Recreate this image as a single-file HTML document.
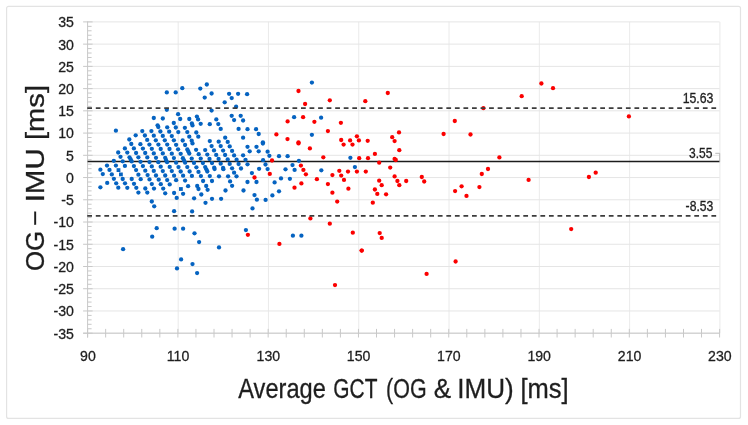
<!DOCTYPE html><html><head><meta charset="utf-8"><title>Bland-Altman plot</title>
<style>html,body{margin:0;padding:0;background:#fff}svg{display:block}text{font-family:"Liberation Sans",sans-serif;fill:#1e1e1e;stroke:#1e1e1e;stroke-width:0.3px}</style></head><body>
<svg width="748" height="425" viewBox="0 0 748 425">
<rect x="0" y="0" width="748" height="425" fill="#fff"/>
<rect x="6.6" y="6.3" width="733.9" height="412.1" rx="2" fill="none" stroke="#e3e3e3" stroke-width="1.2"/>
<path d="M87.6 333.20H719.6M87.6 310.96H719.6M87.6 288.73H719.6M87.6 266.49H719.6M87.6 244.26H719.6M87.6 222.02H719.6M87.6 199.79H719.6M87.6 177.55H719.6M87.6 155.31H719.6M87.6 133.08H719.6M87.6 110.84H719.6M87.6 88.61H719.6M87.6 66.37H719.6M87.6 44.14H719.6M87.6 21.90H719.6" stroke="#e5e5e5" stroke-width="1" fill="none"/>
<path d="M178.19 21.9V333.2M268.47 21.9V333.2M358.76 21.9V333.2M449.04 21.9V333.2M539.33 21.9V333.2M629.61 21.9V333.2M719.90 21.9V333.2" stroke="#e5e5e5" stroke-width="0.8" fill="none"/>
<path d="M87.6 21.4V337.5M83.1 333.2H719.6M83.1 333.20h9.5M87.6 328.75h4M87.6 324.31h4M87.6 319.86h4M87.6 315.41h4M83.1 310.96h9.5M87.6 306.52h4M87.6 302.07h4M87.6 297.62h4M87.6 293.18h4M83.1 288.73h9.5M87.6 284.28h4M87.6 279.83h4M87.6 275.39h4M87.6 270.94h4M83.1 266.49h9.5M87.6 262.05h4M87.6 257.60h4M87.6 253.15h4M87.6 248.70h4M83.1 244.26h9.5M87.6 239.81h4M87.6 235.36h4M87.6 230.92h4M87.6 226.47h4M83.1 222.02h9.5M87.6 217.57h4M87.6 213.13h4M87.6 208.68h4M87.6 204.23h4M83.1 199.79h9.5M87.6 195.34h4M87.6 190.89h4M87.6 186.44h4M87.6 182.00h4M83.1 177.55h9.5M87.6 173.10h4M87.6 168.66h4M87.6 164.21h4M87.6 159.76h4M83.1 155.31h9.5M87.6 150.87h4M87.6 146.42h4M87.6 141.97h4M87.6 137.53h4M83.1 133.08h9.5M87.6 128.63h4M87.6 124.18h4M87.6 119.74h4M87.6 115.29h4M83.1 110.84h9.5M87.6 106.40h4M87.6 101.95h4M87.6 97.50h4M87.6 93.05h4M83.1 88.61h9.5M87.6 84.16h4M87.6 79.71h4M87.6 75.27h4M87.6 70.82h4M83.1 66.37h9.5M87.6 61.92h4M87.6 57.48h4M87.6 53.03h4M87.6 48.58h4M83.1 44.14h9.5M87.6 39.69h4M87.6 35.24h4M87.6 30.79h4M87.6 26.35h4M83.1 21.90h9.5M87.60 328.9v8.6M105.66 328.9v8.6M123.71 328.9v8.6M141.77 328.9v8.6M159.83 328.9v8.6M177.89 328.9v8.6M195.94 328.9v8.6M214.00 328.9v8.6M232.06 328.9v8.6M250.11 328.9v8.6M268.17 328.9v8.6M286.23 328.9v8.6M304.29 328.9v8.6M322.34 328.9v8.6M340.40 328.9v8.6M358.46 328.9v8.6M376.51 328.9v8.6M394.57 328.9v8.6M412.63 328.9v8.6M430.69 328.9v8.6M448.74 328.9v8.6M466.80 328.9v8.6M484.86 328.9v8.6M502.91 328.9v8.6M520.97 328.9v8.6M539.03 328.9v8.6M557.09 328.9v8.6M575.14 328.9v8.6M593.20 328.9v8.6M611.26 328.9v8.6M629.31 328.9v8.6M647.37 328.9v8.6M665.43 328.9v8.6M683.49 328.9v8.6M701.54 328.9v8.6M719.60 328.9v8.6" stroke="#c8c8c8" stroke-width="1" fill="none"/>
<text transform="translate(53.48 338.60) scale(0.9180 1)" font-size="15.4">-35</text>
<text transform="translate(53.48 316.36) scale(0.9180 1)" font-size="15.4">-30</text>
<text transform="translate(53.48 294.13) scale(0.9180 1)" font-size="15.4">-25</text>
<text transform="translate(53.48 271.89) scale(0.9180 1)" font-size="15.4">-20</text>
<text transform="translate(53.48 249.66) scale(0.9180 1)" font-size="15.4">-15</text>
<text transform="translate(53.48 227.42) scale(0.9180 1)" font-size="15.4">-10</text>
<text transform="translate(61.34 205.19) scale(0.9180 1)" font-size="15.4">-5</text>
<text transform="translate(66.05 182.95) scale(0.9180 1)" font-size="15.4">0</text>
<text transform="translate(66.05 160.71) scale(0.9180 1)" font-size="15.4">5</text>
<text transform="translate(58.19 138.48) scale(0.9180 1)" font-size="15.4">10</text>
<text transform="translate(58.19 116.24) scale(0.9180 1)" font-size="15.4">15</text>
<text transform="translate(58.19 94.01) scale(0.9180 1)" font-size="15.4">20</text>
<text transform="translate(58.19 71.77) scale(0.9180 1)" font-size="15.4">25</text>
<text transform="translate(58.19 49.54) scale(0.9180 1)" font-size="15.4">30</text>
<text transform="translate(58.19 27.30) scale(0.9180 1)" font-size="15.4">35</text>
<text transform="translate(80.11 361.00) scale(0.9180 1)" font-size="15.4">90</text>
<text transform="translate(166.78 361.00) scale(0.9180 1)" font-size="15.4">110</text>
<text transform="translate(256.54 361.00) scale(0.9180 1)" font-size="15.4">130</text>
<text transform="translate(346.82 361.00) scale(0.9180 1)" font-size="15.4">150</text>
<text transform="translate(437.11 361.00) scale(0.9180 1)" font-size="15.4">170</text>
<text transform="translate(527.40 361.00) scale(0.9180 1)" font-size="15.4">190</text>
<text transform="translate(617.82 361.00) scale(0.9180 1)" font-size="15.4">210</text>
<text transform="translate(708.11 361.00) scale(0.9180 1)" font-size="15.4">230</text>
<text transform="translate(238.30 397.60) scale(0.8749 1)" font-size="27.0">Average</text>
<text transform="translate(333.36 397.60) scale(0.7734 1)" font-size="27.0">GCT</text>
<text transform="translate(386.11 397.60) scale(0.7951 1)" font-size="27.0">(OG</text>
<text transform="translate(433.82 397.60) scale(0.9641 1)" font-size="27.0">&amp;</text>
<text transform="translate(457.25 397.60) scale(0.9667 1)" font-size="27.0">IMU)</text>
<text transform="translate(520.41 397.60) scale(0.9456 1)" font-size="27.0">[ms]</text>
<text transform="translate(43.60 271.04) rotate(-90) scale(1.0197 1)" font-size="25.4">OG</text>
<text transform="translate(41.60 224.40) rotate(-90) scale(0.9069 1)" font-size="25.4">–</text>
<text transform="translate(43.60 202.36) rotate(-90) scale(1.1640 1)" font-size="25.4">IMU</text>
<text transform="translate(43.60 140.04) rotate(-90) scale(1.1491 1)" font-size="25.4">[ms]</text>
<path d="M87.6 161.46H719.6" stroke="#1c1c1c" stroke-width="1.5" fill="none"/>
<g fill="#0563c1"><circle cx="166.8" cy="92.4" r="2.15"/><circle cx="175.7" cy="92.4" r="2.15"/><circle cx="182.3" cy="88.2" r="2.15"/><circle cx="200.3" cy="88.6" r="2.15"/><circle cx="206.8" cy="84.5" r="2.15"/><circle cx="204.7" cy="97.6" r="2.15"/><circle cx="211.6" cy="93.5" r="2.15"/><circle cx="229.1" cy="93.8" r="2.15"/><circle cx="238.1" cy="93.8" r="2.15"/><circle cx="247.1" cy="94.2" r="2.15"/><circle cx="231.7" cy="98.1" r="2.15"/><circle cx="224.7" cy="102.3" r="2.15"/><circle cx="236.1" cy="106.7" r="2.15"/><circle cx="311.9" cy="82.6" r="2.15"/><circle cx="115.9" cy="130.7" r="2.15"/><circle cx="142.3" cy="131.1" r="2.15"/><circle cx="144.9" cy="135.5" r="2.15"/><circle cx="147.2" cy="139.9" r="2.15"/><circle cx="135.7" cy="135.3" r="2.15"/><circle cx="129.3" cy="139.5" r="2.15"/><circle cx="166.8" cy="109.8" r="2.15"/><circle cx="178.1" cy="114.2" r="2.15"/><circle cx="180.2" cy="119.0" r="2.15"/><circle cx="153.8" cy="118.0" r="2.15"/><circle cx="162.8" cy="118.5" r="2.15"/><circle cx="189.3" cy="119.0" r="2.15"/><circle cx="196.9" cy="116.6" r="2.15"/><circle cx="198.1" cy="119.4" r="2.15"/><circle cx="200.7" cy="123.8" r="2.15"/><circle cx="191.9" cy="123.4" r="2.15"/><circle cx="192.5" cy="125.4" r="2.15"/><circle cx="173.8" cy="123.0" r="2.15"/><circle cx="175.8" cy="127.5" r="2.15"/><circle cx="178.3" cy="132.1" r="2.15"/><circle cx="157.6" cy="125.3" r="2.15"/><circle cx="158.3" cy="127.0" r="2.15"/><circle cx="160.4" cy="131.5" r="2.15"/><circle cx="162.8" cy="135.9" r="2.15"/><circle cx="164.8" cy="140.3" r="2.15"/><circle cx="167.2" cy="127.3" r="2.15"/><circle cx="169.2" cy="131.7" r="2.15"/><circle cx="171.8" cy="136.1" r="2.15"/><circle cx="173.9" cy="140.3" r="2.15"/><circle cx="151.4" cy="131.1" r="2.15"/><circle cx="153.8" cy="135.7" r="2.15"/><circle cx="155.8" cy="140.3" r="2.15"/><circle cx="184.9" cy="127.8" r="2.15"/><circle cx="187.3" cy="132.1" r="2.15"/><circle cx="189.3" cy="136.7" r="2.15"/><circle cx="191.7" cy="140.7" r="2.15"/><circle cx="196.3" cy="132.5" r="2.15"/><circle cx="198.3" cy="136.7" r="2.15"/><circle cx="182.7" cy="140.5" r="2.15"/><circle cx="209.8" cy="124.2" r="2.15"/><circle cx="209.8" cy="141.1" r="2.15"/><circle cx="211.6" cy="110.6" r="2.15"/><circle cx="231.7" cy="115.8" r="2.15"/><circle cx="234.1" cy="120.1" r="2.15"/><circle cx="240.7" cy="115.8" r="2.15"/><circle cx="243.1" cy="120.5" r="2.15"/><circle cx="216.3" cy="119.4" r="2.15"/><circle cx="218.3" cy="124.1" r="2.15"/><circle cx="220.7" cy="128.9" r="2.15"/><circle cx="238.6" cy="128.9" r="2.15"/><circle cx="247.5" cy="129.2" r="2.15"/><circle cx="256.1" cy="129.2" r="2.15"/><circle cx="258.7" cy="134.0" r="2.15"/><circle cx="225.2" cy="137.7" r="2.15"/><circle cx="227.7" cy="141.9" r="2.15"/><circle cx="243.1" cy="137.7" r="2.15"/><circle cx="218.7" cy="141.7" r="2.15"/><circle cx="262.9" cy="142.3" r="2.15"/><circle cx="294.1" cy="117.2" r="2.15"/><circle cx="321.1" cy="117.7" r="2.15"/><circle cx="311.9" cy="134.8" r="2.15"/><circle cx="100.4" cy="169.7" r="2.15"/><circle cx="102.8" cy="174.1" r="2.15"/><circle cx="107.0" cy="165.6" r="2.15"/><circle cx="109.5" cy="169.9" r="2.15"/><circle cx="111.8" cy="174.4" r="2.15"/><circle cx="113.8" cy="160.8" r="2.15"/><circle cx="115.9" cy="165.6" r="2.15"/><circle cx="118.2" cy="152.5" r="2.15"/><circle cx="120.5" cy="156.8" r="2.15"/><circle cx="122.7" cy="161.3" r="2.15"/><circle cx="124.9" cy="165.9" r="2.15"/><circle cx="124.9" cy="148.4" r="2.15"/><circle cx="127.3" cy="152.6" r="2.15"/><circle cx="129.5" cy="157.3" r="2.15"/><circle cx="130.7" cy="159.4" r="2.15"/><circle cx="131.7" cy="161.4" r="2.15"/><circle cx="133.9" cy="166.1" r="2.15"/><circle cx="136.1" cy="170.1" r="2.15"/><circle cx="138.4" cy="174.7" r="2.15"/><circle cx="131.3" cy="144.0" r="2.15"/><circle cx="133.9" cy="148.4" r="2.15"/><circle cx="136.1" cy="153.0" r="2.15"/><circle cx="138.4" cy="157.3" r="2.15"/><circle cx="140.5" cy="161.8" r="2.15"/><circle cx="142.9" cy="166.1" r="2.15"/><circle cx="145.3" cy="170.7" r="2.15"/><circle cx="147.6" cy="175.1" r="2.15"/><circle cx="140.4" cy="144.2" r="2.15"/><circle cx="142.9" cy="148.6" r="2.15"/><circle cx="145.2" cy="153.0" r="2.15"/><circle cx="147.3" cy="157.4" r="2.15"/><circle cx="149.5" cy="162.1" r="2.15"/><circle cx="149.4" cy="144.6" r="2.15"/><circle cx="158.4" cy="144.6" r="2.15"/><circle cx="167.2" cy="144.6" r="2.15"/><circle cx="176.1" cy="144.8" r="2.15"/><circle cx="185.1" cy="145.0" r="2.15"/><circle cx="192.5" cy="143.4" r="2.15"/><circle cx="151.8" cy="148.8" r="2.15"/><circle cx="160.7" cy="149.0" r="2.15"/><circle cx="169.5" cy="149.0" r="2.15"/><circle cx="178.1" cy="149.3" r="2.15"/><circle cx="187.3" cy="149.4" r="2.15"/><circle cx="196.1" cy="149.8" r="2.15"/><circle cx="205.2" cy="150.1" r="2.15"/><circle cx="153.8" cy="153.4" r="2.15"/><circle cx="162.8" cy="153.4" r="2.15"/><circle cx="171.8" cy="153.7" r="2.15"/><circle cx="180.7" cy="153.8" r="2.15"/><circle cx="189.3" cy="153.6" r="2.15"/><circle cx="198.7" cy="154.2" r="2.15"/><circle cx="207.3" cy="154.6" r="2.15"/><circle cx="156.0" cy="157.8" r="2.15"/><circle cx="165.2" cy="157.8" r="2.15"/><circle cx="173.9" cy="158.1" r="2.15"/><circle cx="182.9" cy="158.2" r="2.15"/><circle cx="191.7" cy="158.6" r="2.15"/><circle cx="200.7" cy="158.6" r="2.15"/><circle cx="209.5" cy="159.0" r="2.15"/><circle cx="158.3" cy="162.2" r="2.15"/><circle cx="167.1" cy="162.2" r="2.15"/><circle cx="176.1" cy="162.7" r="2.15"/><circle cx="185.1" cy="162.7" r="2.15"/><circle cx="194.0" cy="162.9" r="2.15"/><circle cx="202.9" cy="163.1" r="2.15"/><circle cx="151.8" cy="166.4" r="2.15"/><circle cx="160.7" cy="166.7" r="2.15"/><circle cx="169.7" cy="166.9" r="2.15"/><circle cx="178.5" cy="167.1" r="2.15"/><circle cx="187.3" cy="167.1" r="2.15"/><circle cx="196.4" cy="167.3" r="2.15"/><circle cx="205.2" cy="167.1" r="2.15"/><circle cx="153.8" cy="170.9" r="2.15"/><circle cx="162.8" cy="171.1" r="2.15"/><circle cx="171.8" cy="171.1" r="2.15"/><circle cx="180.7" cy="171.5" r="2.15"/><circle cx="189.6" cy="171.5" r="2.15"/><circle cx="198.5" cy="171.9" r="2.15"/><circle cx="207.3" cy="171.5" r="2.15"/><circle cx="156.0" cy="175.5" r="2.15"/><circle cx="165.2" cy="175.5" r="2.15"/><circle cx="174.1" cy="175.7" r="2.15"/><circle cx="183.1" cy="175.7" r="2.15"/><circle cx="191.9" cy="175.9" r="2.15"/><circle cx="200.9" cy="176.1" r="2.15"/><circle cx="209.8" cy="176.1" r="2.15"/><circle cx="166.0" cy="160.0" r="2.15"/><circle cx="188.3" cy="151.4" r="2.15"/><circle cx="184.0" cy="160.5" r="2.15"/><circle cx="206.3" cy="169.3" r="2.15"/><circle cx="262.9" cy="143.6" r="2.15"/><circle cx="211.6" cy="146.1" r="2.15"/><circle cx="220.7" cy="146.1" r="2.15"/><circle cx="229.7" cy="146.4" r="2.15"/><circle cx="247.5" cy="146.8" r="2.15"/><circle cx="256.5" cy="146.8" r="2.15"/><circle cx="214.0" cy="150.4" r="2.15"/><circle cx="223.1" cy="150.6" r="2.15"/><circle cx="232.1" cy="150.9" r="2.15"/><circle cx="249.7" cy="151.3" r="2.15"/><circle cx="258.7" cy="151.3" r="2.15"/><circle cx="267.6" cy="151.7" r="2.15"/><circle cx="216.2" cy="154.9" r="2.15"/><circle cx="225.1" cy="155.0" r="2.15"/><circle cx="234.1" cy="155.4" r="2.15"/><circle cx="243.1" cy="155.3" r="2.15"/><circle cx="269.4" cy="155.8" r="2.15"/><circle cx="218.6" cy="159.0" r="2.15"/><circle cx="227.7" cy="159.4" r="2.15"/><circle cx="236.6" cy="159.7" r="2.15"/><circle cx="245.5" cy="159.8" r="2.15"/><circle cx="263.1" cy="160.2" r="2.15"/><circle cx="212.0" cy="163.1" r="2.15"/><circle cx="220.7" cy="163.7" r="2.15"/><circle cx="229.7" cy="163.9" r="2.15"/><circle cx="238.6" cy="164.0" r="2.15"/><circle cx="247.5" cy="164.3" r="2.15"/><circle cx="265.5" cy="164.5" r="2.15"/><circle cx="214.2" cy="167.7" r="2.15"/><circle cx="214.6" cy="169.1" r="2.15"/><circle cx="223.1" cy="168.0" r="2.15"/><circle cx="223.4" cy="169.2" r="2.15"/><circle cx="232.1" cy="168.3" r="2.15"/><circle cx="241.0" cy="168.5" r="2.15"/><circle cx="259.1" cy="168.8" r="2.15"/><circle cx="267.6" cy="169.1" r="2.15"/><circle cx="234.1" cy="172.7" r="2.15"/><circle cx="251.9" cy="173.1" r="2.15"/><circle cx="219.0" cy="176.3" r="2.15"/><circle cx="228.1" cy="176.3" r="2.15"/><circle cx="236.5" cy="176.3" r="2.15"/><circle cx="279.0" cy="156.2" r="2.15"/><circle cx="287.6" cy="156.2" r="2.15"/><circle cx="298.9" cy="160.8" r="2.15"/><circle cx="292.5" cy="165.1" r="2.15"/><circle cx="285.5" cy="169.3" r="2.15"/><circle cx="294.6" cy="169.9" r="2.15"/><circle cx="321.3" cy="170.3" r="2.15"/><circle cx="100.4" cy="187.3" r="2.15"/><circle cx="107.2" cy="182.9" r="2.15"/><circle cx="113.9" cy="178.8" r="2.15"/><circle cx="116.2" cy="183.3" r="2.15"/><circle cx="118.3" cy="187.7" r="2.15"/><circle cx="122.7" cy="179.0" r="2.15"/><circle cx="125.0" cy="183.3" r="2.15"/><circle cx="127.3" cy="187.8" r="2.15"/><circle cx="131.7" cy="179.0" r="2.15"/><circle cx="134.0" cy="183.8" r="2.15"/><circle cx="136.3" cy="187.8" r="2.15"/><circle cx="138.4" cy="192.6" r="2.15"/><circle cx="140.7" cy="179.2" r="2.15"/><circle cx="145.3" cy="188.5" r="2.15"/><circle cx="147.3" cy="192.6" r="2.15"/><circle cx="149.5" cy="179.4" r="2.15"/><circle cx="158.7" cy="179.7" r="2.15"/><circle cx="160.8" cy="184.2" r="2.15"/><circle cx="163.2" cy="188.6" r="2.15"/><circle cx="165.2" cy="193.3" r="2.15"/><circle cx="151.8" cy="184.1" r="2.15"/><circle cx="154.0" cy="188.6" r="2.15"/><circle cx="167.2" cy="180.1" r="2.15"/><circle cx="169.7" cy="184.4" r="2.15"/><circle cx="176.1" cy="180.2" r="2.15"/><circle cx="185.1" cy="180.6" r="2.15"/><circle cx="203.1" cy="181.0" r="2.15"/><circle cx="188.1" cy="186.2" r="2.15"/><circle cx="197.2" cy="186.0" r="2.15"/><circle cx="198.5" cy="189.0" r="2.15"/><circle cx="206.2" cy="186.0" r="2.15"/><circle cx="207.6" cy="189.8" r="2.15"/><circle cx="183.1" cy="193.8" r="2.15"/><circle cx="174.1" cy="193.0" r="2.15"/><circle cx="176.7" cy="197.9" r="2.15"/><circle cx="201.3" cy="194.5" r="2.15"/><circle cx="194.1" cy="198.3" r="2.15"/><circle cx="205.5" cy="202.8" r="2.15"/><circle cx="151.8" cy="201.5" r="2.15"/><circle cx="154.2" cy="206.3" r="2.15"/><circle cx="212.0" cy="181.0" r="2.15"/><circle cx="230.1" cy="181.4" r="2.15"/><circle cx="232.1" cy="185.8" r="2.15"/><circle cx="247.5" cy="182.0" r="2.15"/><circle cx="256.5" cy="182.0" r="2.15"/><circle cx="225.5" cy="190.5" r="2.15"/><circle cx="243.5" cy="190.5" r="2.15"/><circle cx="254.5" cy="195.1" r="2.15"/><circle cx="256.9" cy="199.7" r="2.15"/><circle cx="265.6" cy="199.9" r="2.15"/><circle cx="212.0" cy="198.8" r="2.15"/><circle cx="221.1" cy="198.8" r="2.15"/><circle cx="252.5" cy="208.4" r="2.15"/><circle cx="281.0" cy="178.4" r="2.15"/><circle cx="289.9" cy="178.8" r="2.15"/><circle cx="274.6" cy="182.4" r="2.15"/><circle cx="279.0" cy="191.3" r="2.15"/><circle cx="272.4" cy="195.4" r="2.15"/><circle cx="174.1" cy="211.2" r="2.15"/><circle cx="192.1" cy="211.4" r="2.15"/><circle cx="156.7" cy="228.2" r="2.15"/><circle cx="174.6" cy="228.7" r="2.15"/><circle cx="183.1" cy="228.7" r="2.15"/><circle cx="152.2" cy="236.7" r="2.15"/><circle cx="194.5" cy="233.3" r="2.15"/><circle cx="199.1" cy="242.1" r="2.15"/><circle cx="245.9" cy="230.1" r="2.15"/><circle cx="292.9" cy="235.7" r="2.15"/><circle cx="301.4" cy="235.7" r="2.15"/><circle cx="123.1" cy="249.2" r="2.15"/><circle cx="181.1" cy="259.4" r="2.15"/><circle cx="177.0" cy="268.4" r="2.15"/><circle cx="192.5" cy="264.1" r="2.15"/><circle cx="197.1" cy="273.1" r="2.15"/><circle cx="219.0" cy="247.4" r="2.15"/><circle cx="350.4" cy="157.8" r="2.15"/><circle cx="354.9" cy="167.1" r="2.15"/></g>
<g fill="#0563c1"><rect x="116.6" y="168.2" width="3.8" height="3.8"/><rect x="119.0" y="172.5" width="3.8" height="3.8"/><rect x="179.0" y="187.1" width="3.8" height="3.8"/></g>
<g fill="#fb0000"><circle cx="298.5" cy="91.0" r="2.15"/><circle cx="305.1" cy="104.0" r="2.15"/><circle cx="329.8" cy="100.3" r="2.15"/><circle cx="303.1" cy="117.2" r="2.15"/><circle cx="287.6" cy="121.4" r="2.15"/><circle cx="314.4" cy="121.8" r="2.15"/><circle cx="276.4" cy="134.4" r="2.15"/><circle cx="287.5" cy="139.1" r="2.15"/><circle cx="327.9" cy="131.1" r="2.15"/><circle cx="298.5" cy="142.3" r="2.15"/><circle cx="269.8" cy="173.9" r="2.15"/><circle cx="254.5" cy="177.5" r="2.15"/><circle cx="298.5" cy="143.4" r="2.15"/><circle cx="309.9" cy="148.4" r="2.15"/><circle cx="323.3" cy="157.3" r="2.15"/><circle cx="272.0" cy="160.5" r="2.15"/><circle cx="300.9" cy="165.6" r="2.15"/><circle cx="303.4" cy="169.9" r="2.15"/><circle cx="305.9" cy="174.3" r="2.15"/><circle cx="316.9" cy="179.2" r="2.15"/><circle cx="301.4" cy="183.4" r="2.15"/><circle cx="294.5" cy="187.7" r="2.15"/><circle cx="327.9" cy="184.1" r="2.15"/><circle cx="247.9" cy="234.8" r="2.15"/><circle cx="310.4" cy="218.4" r="2.15"/><circle cx="329.8" cy="223.7" r="2.15"/><circle cx="279.4" cy="243.9" r="2.15"/><circle cx="361.8" cy="250.6" r="2.15"/><circle cx="335.0" cy="285.1" r="2.15"/><circle cx="365.3" cy="101.2" r="2.15"/><circle cx="387.8" cy="93.0" r="2.15"/><circle cx="340.9" cy="122.8" r="2.15"/><circle cx="399.0" cy="132.4" r="2.15"/><circle cx="443.6" cy="134.0" r="2.15"/><circle cx="356.9" cy="136.3" r="2.15"/><circle cx="392.2" cy="137.2" r="2.15"/><circle cx="341.2" cy="140.0" r="2.15"/><circle cx="350.1" cy="140.4" r="2.15"/><circle cx="358.9" cy="140.4" r="2.15"/><circle cx="367.7" cy="140.8" r="2.15"/><circle cx="394.6" cy="141.1" r="2.15"/><circle cx="541.4" cy="83.5" r="2.15"/><circle cx="553.0" cy="88.2" r="2.15"/><circle cx="521.7" cy="96.2" r="2.15"/><circle cx="483.4" cy="108.2" r="2.15"/><circle cx="454.8" cy="121.0" r="2.15"/><circle cx="470.5" cy="134.5" r="2.15"/><circle cx="628.9" cy="116.4" r="2.15"/><circle cx="343.6" cy="144.6" r="2.15"/><circle cx="352.5" cy="144.6" r="2.15"/><circle cx="399.3" cy="150.2" r="2.15"/><circle cx="374.9" cy="153.9" r="2.15"/><circle cx="359.2" cy="158.2" r="2.15"/><circle cx="368.0" cy="158.2" r="2.15"/><circle cx="394.6" cy="159.0" r="2.15"/><circle cx="395.8" cy="160.0" r="2.15"/><circle cx="379.2" cy="162.7" r="2.15"/><circle cx="390.2" cy="167.6" r="2.15"/><circle cx="339.3" cy="170.8" r="2.15"/><circle cx="348.0" cy="171.6" r="2.15"/><circle cx="356.9" cy="171.6" r="2.15"/><circle cx="365.8" cy="171.6" r="2.15"/><circle cx="332.4" cy="175.1" r="2.15"/><circle cx="341.2" cy="175.6" r="2.15"/><circle cx="344.0" cy="179.9" r="2.15"/><circle cx="394.6" cy="176.4" r="2.15"/><circle cx="397.4" cy="181.0" r="2.15"/><circle cx="399.3" cy="185.2" r="2.15"/><circle cx="406.2" cy="181.0" r="2.15"/><circle cx="421.8" cy="177.0" r="2.15"/><circle cx="424.2" cy="181.5" r="2.15"/><circle cx="379.2" cy="180.7" r="2.15"/><circle cx="381.7" cy="185.2" r="2.15"/><circle cx="374.9" cy="189.5" r="2.15"/><circle cx="377.3" cy="193.9" r="2.15"/><circle cx="386.1" cy="194.3" r="2.15"/><circle cx="348.4" cy="188.7" r="2.15"/><circle cx="332.4" cy="192.7" r="2.15"/><circle cx="337.2" cy="201.6" r="2.15"/><circle cx="372.8" cy="202.7" r="2.15"/><circle cx="499.4" cy="157.4" r="2.15"/><circle cx="488.0" cy="169.0" r="2.15"/><circle cx="481.8" cy="174.0" r="2.15"/><circle cx="528.6" cy="179.9" r="2.15"/><circle cx="461.6" cy="186.3" r="2.15"/><circle cx="479.4" cy="187.1" r="2.15"/><circle cx="455.1" cy="191.1" r="2.15"/><circle cx="466.5" cy="195.9" r="2.15"/><circle cx="595.7" cy="172.7" r="2.15"/><circle cx="588.9" cy="177.0" r="2.15"/><circle cx="352.8" cy="232.7" r="2.15"/><circle cx="379.7" cy="233.1" r="2.15"/><circle cx="381.7" cy="237.9" r="2.15"/><circle cx="361.6" cy="250.6" r="2.15"/><circle cx="426.6" cy="273.9" r="2.15"/><circle cx="455.6" cy="261.5" r="2.15"/><circle cx="571.2" cy="229.1" r="2.15"/></g>
<path d="M87.25 108.04H719.6M87.25 215.78H719.6" stroke="#3c3c3c" stroke-width="1.8" stroke-dasharray="4.75 3.8" fill="none"/>
<path d="M715.3 153.3H719.7V161.8" stroke="#a6a6a6" stroke-width="0.8" fill="none"/>
<text transform="translate(682.64 102.50) scale(0.8609 1)" font-size="14.3">15.63</text>
<text transform="translate(689.04 158.40) scale(0.8406 1)" font-size="14.3">3.55</text>
<text transform="translate(685.61 210.50) scale(0.8507 1)" font-size="14.3">-8.53</text>
</svg></body></html>
